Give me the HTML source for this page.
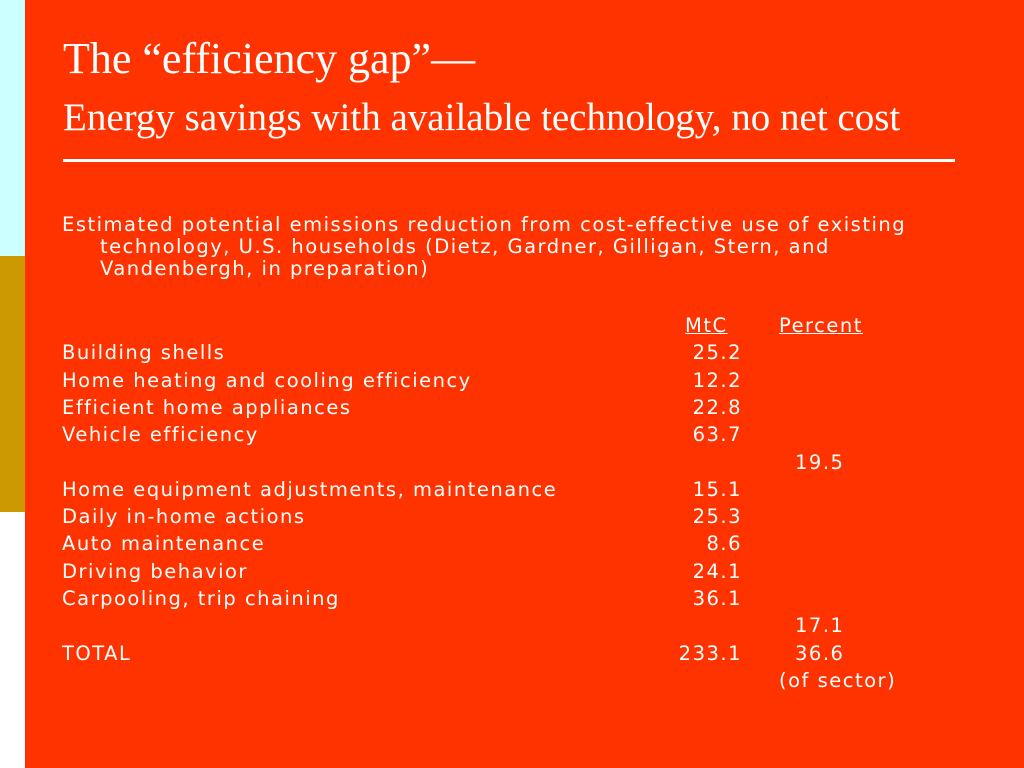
<!DOCTYPE html>
<html><head><meta charset="utf-8"><style>
body{margin:0;width:1024px;height:768px;position:relative;background:#ff3300;overflow:hidden;font-family:"DejaVu Sans","Liberation Sans",sans-serif;color:#fff}
.strip{position:absolute;left:0;width:25px}
.t{position:absolute;font-family:"Liberation Serif",serif;white-space:nowrap}
.b{position:absolute;font-size:19.5px;white-space:nowrap;line-height:27.3px;letter-spacing:1.5px}
.r{position:absolute;left:0;width:1024px;height:27.3px}
.r span{position:absolute;top:0}
.c1{left:62px}.c2{right:282px}.c3{left:795px}
.il{position:absolute;white-space:nowrap}
</style></head><body>
<div class="strip" style="top:0;height:256px;background:#ccffff"></div>
<div class="strip" style="top:256px;height:256px;background:#cc9900"></div>
<div class="strip" style="top:512px;height:256px;background:#fff"></div>
<div class="t" style="left:63px;top:33px;font-size:44px">The “efficiency gap”—</div>
<div class="t" style="left:63px;top:95px;font-size:39px">Energy savings with available technology, no net cost</div>
<div style="position:absolute;left:63px;top:159px;width:892px;height:3px;background:#fff"></div>
<div class="b" style="left:0;top:214px;width:1024px;height:80px;line-height:22px">
<div class="il" style="left:62px;top:0">Estimated potential emissions reduction from cost-effective use of existing</div>
<div class="il" style="left:100px;top:22px">technology, U.S. households (Dietz, Gardner, Gilligan, Stern, and</div>
<div class="il" style="left:100px;top:44px">Vandenbergh, in preparation)</div>
</div>
<div class="b" style="left:0;top:312px;width:1024px;height:400px">
<div class="r" style="top:0"><span style="left:685px;text-decoration:underline">MtC</span><span style="left:779px;text-decoration:underline">Percent</span></div>
<div class="r" style="top:27.3px"><span class="c1">Building shells</span><span class="c2">25.2</span></div>
<div class="r" style="top:54.6px"><span class="c1">Home heating and cooling efficiency</span><span class="c2">12.2</span></div>
<div class="r" style="top:81.9px"><span class="c1">Efficient home appliances</span><span class="c2">22.8</span></div>
<div class="r" style="top:109.2px"><span class="c1">Vehicle efficiency</span><span class="c2">63.7</span></div>
<div class="r" style="top:136.5px"><span class="c3">19.5</span></div>
<div class="r" style="top:163.8px"><span class="c1">Home equipment adjustments, maintenance</span><span class="c2">15.1</span></div>
<div class="r" style="top:191.1px"><span class="c1">Daily in-home actions</span><span class="c2">25.3</span></div>
<div class="r" style="top:218.4px"><span class="c1">Auto maintenance</span><span class="c2">8.6</span></div>
<div class="r" style="top:245.7px"><span class="c1">Driving behavior</span><span class="c2">24.1</span></div>
<div class="r" style="top:273px"><span class="c1">Carpooling, trip chaining</span><span class="c2">36.1</span></div>
<div class="r" style="top:300.3px"><span class="c3">17.1</span></div>
<div class="r" style="top:327.6px"><span class="c1">TOTAL</span><span class="c2">233.1</span><span class="c3">36.6</span></div>
<div class="r" style="top:354.9px"><span style="left:779px">(of sector)</span></div>
</div>
</body></html>
